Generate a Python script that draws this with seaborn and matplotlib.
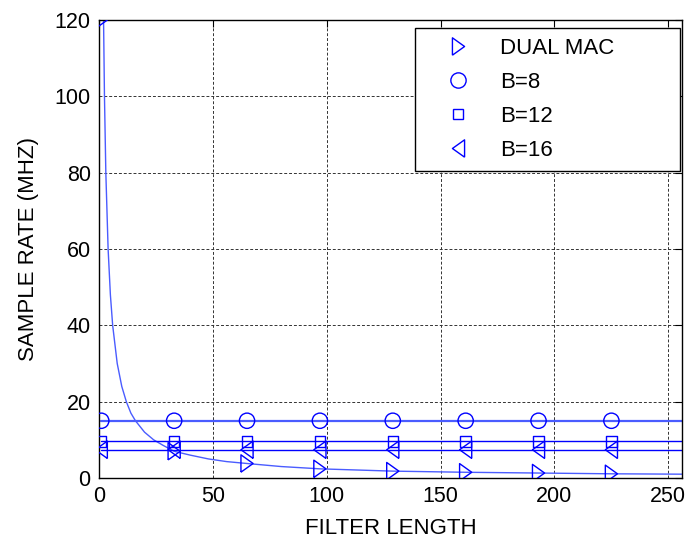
import numpy as np
import pandas as pd
import matplotlib
matplotlib.use("Agg")
import matplotlib.pyplot as plt
import seaborn as sns
from matplotlib.lines import Line2D

# ---- data ----
filter_length = [2, 2.4, 3, 4, 5, 6, 8, 10, 12, 14, 16, 20, 24, 28, 33, 40, 48, 56,
                 65, 80, 97, 113, 129, 145, 161, 177, 193, 209, 225, 241, 256]
dual_mac_rate = [120, 100, 80, 60, 48, 40, 30, 24, 20, 17, 15, 12, 10, 8.6, 7.0,
                 6.0, 5.0, 4.3, 3.8, 3.0, 2.4, 2.1, 1.8, 1.65, 1.5, 1.4, 1.3,
                 1.2, 1.1, 1.05, 1.0]
marker_length = [1, 33, 65, 97, 129, 161, 193, 225]
dual_mac_marker_rate = [120, 7.0, 3.8, 2.4, 1.8, 1.5, 1.3, 1.1]
line_span = [1, 256]
b8_rate = 15.0
b12_rate = 9.6
b16_rate = 7.4
series_labels = ["DUAL MAC", "B=8", "B=12", "B=16"]
x_ticks = [0, 50, 100, 150, 200, 250]
y_ticks = [0, 20, 40, 60, 80, 100, 120]
x_label = "FILTER LENGTH"
y_label = "SAMPLE RATE (MHZ)"

# ---- style ----
sns.set_style("white")
plt.rcParams["font.family"] = ["Liberation Sans", "DejaVu Sans"]
plt.rcParams["font.size"] = 15
plt.rcParams["text.color"] = "black"
plt.rcParams["axes.labelcolor"] = "black"
plt.rcParams["xtick.color"] = "black"
plt.rcParams["ytick.color"] = "black"

BLUE = "#0000ff"
LIGHT = "#4a5cff"

tri_right = [(-0.7, -1.0), (0.7, 0.0), (-0.7, 1.0), (-0.7, -1.0)]
tri_left = [(0.7, -1.0), (-0.7, 0.0), (0.7, 1.0), (0.7, -1.0)]

fig = plt.figure(figsize=(6.93, 5.44), dpi=100)
ax = fig.add_axes([99 / 693, 1 - 478 / 544, 583 / 693, 458 / 544])

# lines
sns.lineplot(x=filter_length, y=dual_mac_rate, ax=ax, color=LIGHT, linewidth=1.0,
             estimator=None, sort=False)
for rate, col, lw in [(b8_rate, LIGHT, 1.6), (b12_rate, BLUE, 1.0), (b16_rate, BLUE, 1.0)]:
    sns.lineplot(x=line_span, y=[rate, rate], ax=ax, color=col, linewidth=lw,
                 estimator=None, sort=False)

# markers
marker_specs = [
    (dual_mac_marker_rate, tri_right, 12.5),
    ([b8_rate] * len(marker_length), "o", 11),
    ([b12_rate] * len(marker_length), "s", 7.5),
    ([b16_rate] * len(marker_length), tri_left, 12.5),
]
for yvals, mk, ms in marker_specs:
    sns.scatterplot(x=marker_length, y=yvals, ax=ax, marker=mk, s=ms ** 2,
                    color=BLUE, edgecolor=BLUE, linewidth=1.0, zorder=3)
    ax.collections[-1].set_facecolor("none")

ax.set_xlim(0, 256)
ax.set_ylim(0, 120)
ax.set_xticks(x_ticks)
ax.set_yticks(y_ticks)
ax.set_xlabel(x_label, fontsize=16, labelpad=8, color="black")
ax.set_ylabel(y_label, fontsize=16, labelpad=11, color="black")
ax.tick_params(direction="in", length=5, width=0.8, top=True, right=True,
               labelsize=15.5, colors="black", pad=6)
ax.grid(True, color="#333333", linestyle=(0, (3, 2)), linewidth=0.7)
for sp in ax.spines.values():
    sp.set_visible(True)
    sp.set_color("black")
    sp.set_linewidth(1.0)

# legend (markers only)
handles = [
    Line2D([], [], linestyle="none", marker=tri_right, markersize=12.5, markerfacecolor="none",
           markeredgecolor=BLUE, markeredgewidth=1.0),
    Line2D([], [], linestyle="none", marker="o", markersize=11, markerfacecolor="none",
           markeredgecolor=BLUE, markeredgewidth=1.0),
    Line2D([], [], linestyle="none", marker="s", markersize=7.5, markerfacecolor="none",
           markeredgecolor=BLUE, markeredgewidth=1.0),
    Line2D([], [], linestyle="none", marker=tri_left, markersize=12.5, markerfacecolor="none",
           markeredgecolor=BLUE, markeredgewidth=1.0),
]
x0 = (415 - 99) / 583
x1 = (680 - 99) / 583
y0 = (478 - 170) / 458
y1 = (478 - 28) / 458
leg = ax.legend(handles, series_labels, loc="upper left",
                bbox_to_anchor=(x0, y0, x1 - x0, y1 - y0), mode="expand",
                fancybox=False, framealpha=1, edgecolor="black", fontsize=16,
                handlelength=3.0, handletextpad=0.39, labelspacing=0.585,
                borderpad=0.44, borderaxespad=0.0)
leg.get_frame().set_linewidth(1.0)
for t in leg.get_texts():
    t.set_color("black")

fig.savefig("out.png", dpi=100)
